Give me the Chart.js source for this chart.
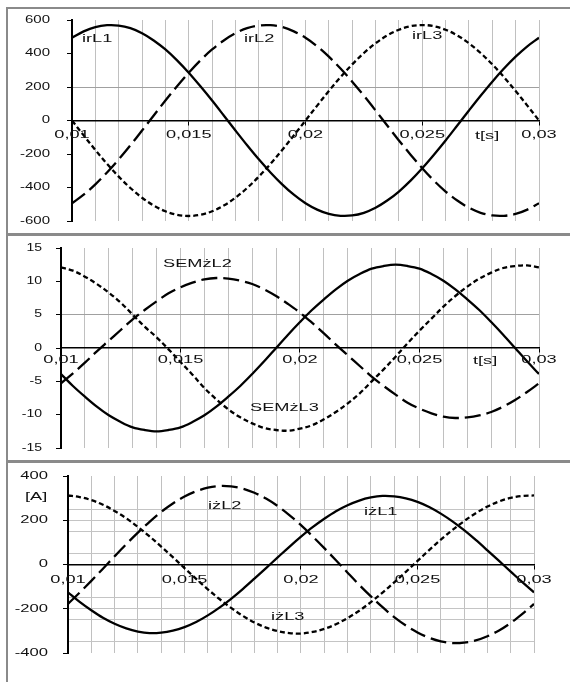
<!DOCTYPE html>
<html>
<head>
<meta charset="utf-8">
<script src="https://cdn.jsdelivr.net/npm/chart.js@4.4.0/dist/chart.umd.min.js"></script>
<style>
body { margin: 0; background: #fff; }
#wrap { position: relative; width: 570px; height: 682px; overflow: hidden; }
canvas { position: absolute; left: 0; }
.frame { position: absolute; background: #8a8a8a; }
</style>
</head>
<body>
<div id="wrap">
<canvas id="c1" width="570" height="235" style="top:0"></canvas>
<canvas id="c2" width="570" height="227" style="top:235px"></canvas>
<canvas id="c3" width="570" height="220" style="top:462px"></canvas>
<div class="frame" style="left:6px;top:7px;width:2px;height:675px"></div>
<div class="frame" style="left:6px;top:7px;width:564px;height:2px"></div>
<div class="frame" style="left:6px;top:233px;width:564px;height:3px"></div>
<div class="frame" style="left:6px;top:460px;width:564px;height:3px"></div>
</div>
<script>
// czas t[s]
const time = [0.01, 0.0105, 0.011, 0.0115, 0.012, 0.0125, 0.013, 0.0135, 0.014, 0.0145,
  0.015, 0.0155, 0.016, 0.0165, 0.017, 0.0175, 0.018, 0.0185, 0.019, 0.0195,
  0.02, 0.0205, 0.021, 0.0215, 0.022, 0.0225, 0.023, 0.0235, 0.024, 0.0245,
  0.025, 0.0255, 0.026, 0.0265, 0.027, 0.0275, 0.028, 0.0285, 0.029, 0.0295, 0.03];

// prady irL
const irL1 = [494, 532, 558, 569, 567, 551, 521, 478, 424, 359, 285, 204, 119, 30, -60, -148, -232, -310, -381, -443,
  -494, -532, -558, -569, -567, -551, -521, -478, -424, -359, -285, -204, -119, -30, 60, 148, 232, 310, 381, 443, 494];
const irL2 = [-494, -443, -381, -310, -232, -148, -60, 30, 119, 204, 285, 359, 424, 478, 521, 551, 567, 569, 558, 532,
  494, 443, 381, 310, 232, 148, 60, -30, -119, -204, -285, -359, -424, -478, -521, -551, -567, -569, -558, -532, -494];
const irL3 = [0, -89, -176, -259, -335, -403, -461, -508, -542, -563, -570, -563, -542, -508, -461, -403, -335, -259, -176, -89,
  0, 89, 176, 259, 335, 403, 461, 508, 542, 563, 570, 563, 542, 508, 461, 403, 335, 259, 176, 89, 0];

// SEM
const semL1 = [-3.9, -5.7, -7.3, -8.8, -10.1, -11.1, -11.9, -12.3, -12.5, -12.3, -11.9, -11.1, -10.1, -8.8, -7.3, -5.7, -3.9, -2, 0, 2,
  3.9, 5.7, 7.3, 8.8, 10.1, 11.1, 11.9, 12.3, 12.5, 12.3, 11.9, 11.1, 10.1, 8.8, 7.3, 5.7, 3.9, 2, 0, -2, -3.9];
const semL2 = [-5.3, -3.8, -2.2, -0.5, 1.1, 2.7, 4.3, 5.7, 7, 8.2, 9.1, 9.8, 10.3, 10.5, 10.4, 10.1, 9.6, 8.8, 7.8, 6.6,
  5.3, 3.8, 2.2, 0.5, -1.1, -2.7, -4.3, -5.7, -7, -8.2, -9.1, -9.8, -10.3, -10.5, -10.4, -10.1, -9.6, -8.8, -7.8, -6.6, -5.3];
const semL3 = [12.1, 11.6, 10.7, 9.6, 8.3, 6.8, 5, 3.2, 1.6, -0.2, -2.1, -4, -6, -7.7, -9.2, -10.4, -11.3, -12, -12.3, -12.4,
  -12.1, -11.6, -10.7, -9.6, -8.3, -6.8, -5, -3.2, -1.3, 0.7, 2.6, 4.4, 6.2, 7.8, 9.2, 10.4, 11.3, 12, 12.3, 12.4, 12.1];

// prady izL
const izL1 = [-126, -169, -207, -241, -268, -289, -303, -310, -308, -299, -283, -260, -230, -195, -155, -111, -64, -16, 32, 80,
  126, 169, 207, 241, 268, 289, 303, 310, 308, 299, 283, 260, 230, 195, 155, 111, 64, 16, -32, -80, -126];
const izL2 = [-178, -127, -74, -19, 37, 92, 144, 193, 238, 276, 307, 331, 347, 355, 353, 343, 324, 298, 264, 223,
  178, 127, 74, 19, -37, -92, -144, -193, -238, -276, -307, -331, -347, -355, -353, -343, -324, -298, -264, -223, -178];
const izL3 = [312, 305, 291, 270, 242, 209, 170, 127, 81, 33, -16, -65, -112, -156, -196, -232, -262, -285, -301, -310,
  -312, -305, -291, -270, -242, -209, -170, -127, -81, -33, 16, 65, 112, 156, 196, 232, 262, 285, 301, 310, 312];

// opisy osi
const xTickValues = [0.01, 0.015, 0.02, 0.025, 0.03];
const xTickLabels = ['0,01', '0,015', '0,02', '0,025', '0,03'];
const yTicks1 = [600, 400, 200, 0, -200, -400, -600];
const yTicks2 = [15, 10, 5, 0, -5, -10, -15];
const yTicks3 = [400, 200, 0, -200, -400];

const FONT = '10px "Liberation Sans", Arial, sans-serif';
const GRID = '#c0c0c0';
const NONE = 'rgba(0,0,0,0)';

function isMajorTime(v) {
  return Math.round(v * 1000) % 5 === 0;
}

// tekst rozciagniety w poziomie jak na oryginale
function stretchText(ctx, text, x, y, sx, align) {
  ctx.save();
  ctx.font = FONT;
  ctx.fillStyle = '#111';
  ctx.textBaseline = 'middle';
  ctx.textAlign = 'left';
  let w = ctx.measureText(text).width * sx;
  let left = x;
  if (align === 'right') left = x - w;
  if (align === 'center') left = x - w / 2;
  ctx.translate(left, y);
  ctx.scale(sx, 1);
  ctx.fillText(text, 0, 0);
  ctx.restore();
}

function textPlugin(cfg) {
  return {
    id: 'axisText',
    afterDraw(chart) {
      let ctx = chart.ctx;
      let xs = chart.scales.x;
      let ys = chart.scales.y;
      let y0 = ys.getPixelForValue(0);
      cfg.yTicks.forEach(v => {
        stretchText(ctx, String(v), chart.chartArea.left - cfg.yGap, ys.getPixelForValue(v), cfg.ySx, 'right');
      });
      xTickValues.forEach((v, i) => {
        stretchText(ctx, xTickLabels[i], xs.getPixelForValue(v), y0 + cfg.xGap, 1.82, 'center');
      });
      cfg.notes.forEach(n => stretchText(ctx, n.text, n.x, n.y, 1.82, 'left'));
    }
  };
}

function makeChart(id, series, cfg) {
  let dashes = [[], [16, 6], [5, 3]];
  return new Chart(document.getElementById(id), {
    type: 'line',
    data: {
      datasets: series.map((s, i) => ({
        label: s.name,
        data: time.map((t, j) => ({ x: t, y: s.values[j] })),
        borderColor: '#000',
        borderWidth: 2.3,
        borderDash: dashes[i],
        pointRadius: 0,
        tension: 0.35,
        fill: false
      }))
    },
    options: {
      responsive: false,
      animation: false,
      events: [],
      layout: { padding: cfg.pad },
      plugins: { legend: { display: false }, tooltip: { enabled: false } },
      scales: {
        x: {
          type: 'linear',
          position: { y: 0 },
          min: 0.01,
          max: 0.03,
          ticks: { stepSize: 0.001, display: false },
          grid: {
            color: c => (c.index === 0 ? NONE : GRID),
            lineWidth: 1,
            tickLength: 4,
            tickColor: c => (c.tick && isMajorTime(c.tick.value) ? '#000' : NONE)
          },
          border: { color: '#000', width: 1.5 }
        },
        y: {
          min: cfg.min,
          max: cfg.max,
          ticks: { stepSize: cfg.step, display: false },
          afterFit: s => { s.width = cfg.left; },
          grid: {
            color: c => (c.tick && cfg.hLines.includes(c.tick.value) ? cfg.hColor : NONE),
            lineWidth: 1,
            tickLength: 5,
            tickColor: c => (c.tick && cfg.yTicks.includes(c.tick.value) ? '#000' : NONE)
          },
          border: { color: '#000', width: 2 }
        }
      }
    },
    plugins: [textPlugin(cfg)]
  });
}

makeChart('c1', [
  { name: 'irL1', values: irL1 },
  { name: 'irL2', values: irL2 },
  { name: 'irL3', values: irL3 }
], {
  pad: { left: 0, top: 20, right: 31, bottom: 14 },
  left: 72, min: -600, max: 600, step: 200,
  yTicks: yTicks1, hLines: [200], hColor: '#a0a0a0',
  yGap: 22, ySx: 1.5, xGap: 15,
  notes: [
    { text: 'irL1', x: 82, y: 39 },
    { text: 'irL2', x: 244, y: 39 },
    { text: 'irL3', x: 412, y: 36 },
    { text: 't[s]', x: 475, y: 136 }
  ]
});

makeChart('c2', [
  { name: 'SEMżL1', values: semL1 },
  { name: 'SEMżL2', values: semL2 },
  { name: 'SEMżL3', values: semL3 }
], {
  pad: { left: 0, top: 13, right: 31, bottom: 14 },
  left: 61, min: -15, max: 15, step: 5,
  yTicks: yTicks2, hLines: [5], hColor: '#a0a0a0',
  yGap: 19, ySx: 1.4, xGap: 12,
  notes: [
    { text: 'SEMżL2', x: 163, y: 29 },
    { text: 'SEMżL3', x: 250, y: 173 },
    { text: 't[s]', x: 473, y: 126 }
  ]
});

makeChart('c3', [
  { name: 'iżL1', values: izL1 },
  { name: 'iżL2', values: izL2 },
  { name: 'iżL3', values: izL3 }
], {
  pad: { left: 0, top: 14, right: 36, bottom: 29 },
  left: 68, min: -400, max: 400, step: 50,
  yTicks: yTicks3, hLines: [250, 200, 150, 50, -150, -200, -250, -350], hColor: '#c4c4c4',
  yGap: 20, ySx: 1.66, xGap: 15.5,
  notes: [
    { text: '[A]', x: 25, y: 35 },
    { text: 'iżL2', x: 208, y: 44 },
    { text: 'iżL1', x: 364, y: 50 },
    { text: 'iżL3', x: 271, y: 155 }
  ]
});
</script>
</body>
</html>
